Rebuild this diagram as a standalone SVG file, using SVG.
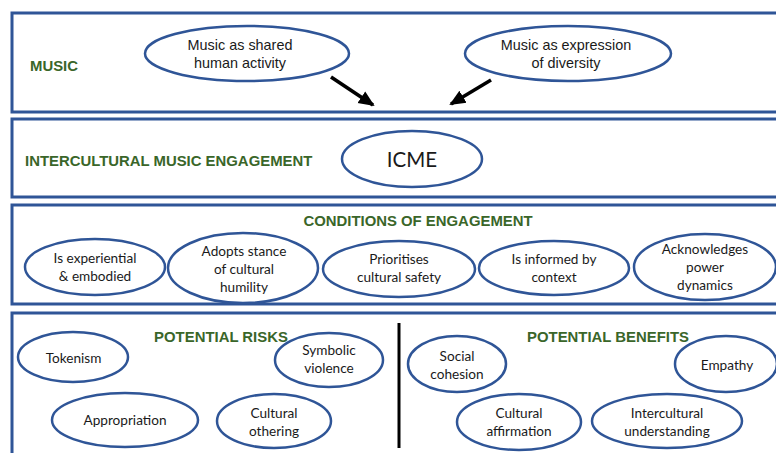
<svg xmlns="http://www.w3.org/2000/svg" width="776" height="453" viewBox="0 0 776 453">
<style>
.panel{fill:#ffffff;stroke:#2F5597;stroke-width:3}
.ell{fill:none;stroke:#2F5597;stroke-width:2.5}
.title{font-family:"Liberation Sans",Arial,sans-serif;font-weight:bold;font-size:14.9px;fill:#3A6629}
.ta{font-family:"Liberation Sans",Arial,sans-serif;font-size:14.4px;fill:#1a1a1a;text-anchor:middle}
.tc{font-family:Lato,"Open Sans",sans-serif;font-size:13.6px;fill:#1a1a1a;text-anchor:middle}
.conn{stroke:#000;stroke-width:3.5;fill:none}
</style>
<defs>
<marker id="ah" markerUnits="userSpaceOnUse" markerWidth="16" markerHeight="16" refX="14" refY="8" orient="auto">
<path d="M0,1 L16,8 L0,15 Z" fill="#000"/>
</marker>
</defs>
<rect width="776" height="453" fill="#ffffff"/>
<g id="panels">
<rect class="panel" x="12" y="13" width="780" height="99"/>
<rect class="panel" x="12" y="119" width="780" height="78"/>
<rect class="panel" x="12" y="205" width="780" height="99"/>
<rect class="panel" x="12" y="313" width="780" height="160"/>
<line x1="399" y1="323" x2="399" y2="448" stroke="#000" stroke-width="3"/>
</g>
<g id="titles">
<text class="title" x="30" y="71">MUSIC</text>
<text class="title" x="25" y="166">INTERCULTURAL MUSIC ENGAGEMENT</text>
<text class="title" x="418" y="226" text-anchor="middle">CONDITIONS OF ENGAGEMENT</text>
<text class="title" x="221" y="342" text-anchor="middle">POTENTIAL RISKS</text>
<text class="title" x="608" y="342" text-anchor="middle">POTENTIAL BENEFITS</text>
</g>
<g id="connectors">
<line class="conn" x1="331" y1="77" x2="373" y2="105" marker-end="url(#ah)"/>
<line class="conn" x1="491" y1="80" x2="451" y2="104" marker-end="url(#ah)"/>
</g>
<g id="n-shared"><ellipse class="ell" cx="247" cy="53.5" rx="102" ry="27.5"/><text class="ta" x="240" y="50">Music as shared</text><text class="ta" x="240" y="68">human activity</text></g>
<g id="n-diversity"><ellipse class="ell" cx="568" cy="53.5" rx="103" ry="27.5"/><text class="ta" x="566" y="50">Music as expression</text><text class="ta" x="566" y="68">of diversity</text></g>
<g id="n-icme"><ellipse class="ell" cx="412" cy="159" rx="70" ry="28"/><text x="412" y="167" font-family="Lato,'Open Sans',sans-serif" font-size="20.5" fill="#1a1a1a" text-anchor="middle">ICME</text></g>
<g id="n-experiential"><ellipse class="ell" cx="95" cy="267" rx="70" ry="28"/><text class="tc" x="95" y="263">Is experiential</text><text class="tc" x="95" y="281">&amp; embodied</text></g>
<g id="n-humility"><ellipse class="ell" cx="243" cy="268" rx="75" ry="35"/><text class="tc" x="244" y="256">Adopts stance</text><text class="tc" x="244" y="274">of cultural</text><text class="tc" x="244" y="292">humility</text></g>
<g id="n-safety"><ellipse class="ell" cx="399" cy="269" rx="76" ry="28"/><text class="tc" x="399" y="264">Prioritises</text><text class="tc" x="399" y="282">cultural safety</text></g>
<g id="n-context"><ellipse class="ell" cx="554" cy="268" rx="75" ry="27"/><text class="tc" x="554" y="264">Is informed by</text><text class="tc" x="554" y="282">context</text></g>
<g id="n-power"><ellipse class="ell" cx="705" cy="267" rx="71" ry="33"/><text class="tc" x="705" y="254">Acknowledges</text><text class="tc" x="705" y="272">power</text><text class="tc" x="705" y="290">dynamics</text></g>
<g id="n-tokenism"><ellipse class="ell" cx="73" cy="357" rx="55" ry="25"/><text class="tc" x="73.5" y="363">Tokenism</text></g>
<g id="n-symbolic"><ellipse class="ell" cx="329" cy="360" rx="54" ry="27"/><text class="tc" x="329" y="355">Symbolic</text><text class="tc" x="329" y="373">violence</text></g>
<g id="n-appropriation"><ellipse class="ell" cx="125" cy="420" rx="73" ry="27"/><text class="tc" x="125" y="425">Appropriation</text></g>
<g id="n-othering"><ellipse class="ell" cx="274" cy="421" rx="57" ry="27"/><text class="tc" x="274" y="418">Cultural</text><text class="tc" x="274" y="436">othering</text></g>
<g id="n-cohesion"><ellipse class="ell" cx="457" cy="364" rx="49" ry="28"/><text class="tc" x="457" y="361">Social</text><text class="tc" x="457" y="379">cohesion</text></g>
<g id="n-empathy"><ellipse class="ell" cx="726" cy="364" rx="51" ry="28"/><text class="tc" x="727" y="370">Empathy</text></g>
<g id="n-affirmation"><ellipse class="ell" cx="519" cy="422" rx="62" ry="28"/><text class="tc" x="519" y="418">Cultural</text><text class="tc" x="519" y="436">affirmation</text></g>
<g id="n-understanding"><ellipse class="ell" cx="667" cy="421" rx="75" ry="27"/><text class="tc" x="667" y="418">Intercultural</text><text class="tc" x="667" y="436">understanding</text></g>
</svg>
